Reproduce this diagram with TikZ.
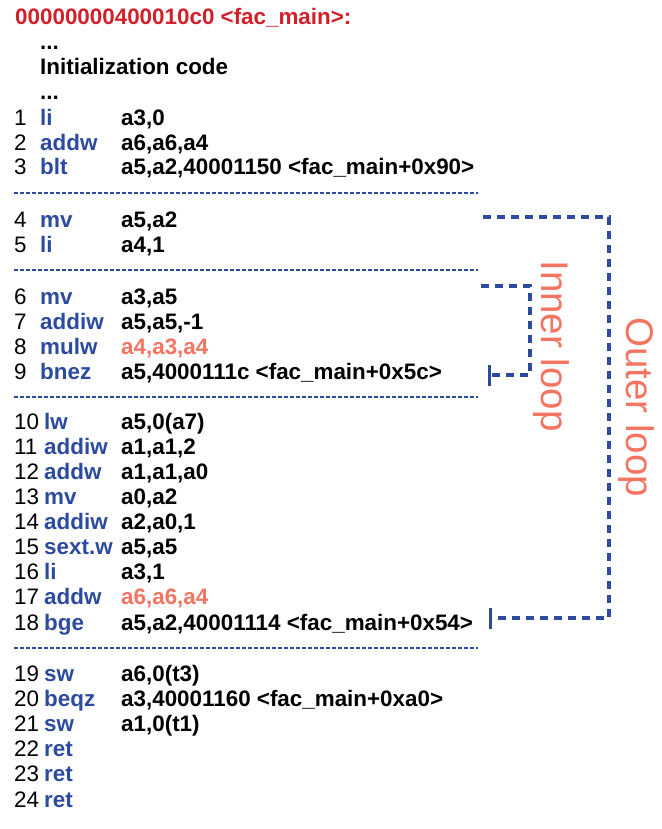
\documentclass[tikz,border=0pt]{standalone}
\usepackage{fontspec}
\setmainfont{Liberation Sans}
\usetikzlibrary{arrows.meta}

\definecolor{mnblue}{HTML}{2C4A9E}
\definecolor{hdred}{HTML}{D2202B}
\definecolor{loopcoral}{HTML}{F47462}

\tikzset{
	codefont/.style={font=\fontsize{22.4}{26}\selectfont},
	num/.style={codefont, anchor=base west, inner sep=0pt},
	mnem/.style={num, font=\fontsize{22.4}{26}\selectfont\bfseries, text=mnblue},
	oper/.style={num, font=\fontsize{22.4}{26}\selectfont\bfseries},
	separator/.style={mnblue, line width=2pt, dash pattern=on 4pt off 2pt},
	loopline/.style={mnblue, line width=3.7pt, dash pattern=on 8pt off 6pt,
		-{Bar[width=21pt, line width=3pt]}},
	looplabel/.style={text=loopcoral, font=\fontsize{38.5}{40}\selectfont,
		rotate=-90, inner sep=0pt}
}

\begin{document}
\begin{tikzpicture}[x=1pt, y=-1pt]

	% ---- canvas

	\useasboundingbox (0,0) rectangle (661,829);

	% ---- header

	\node[oper, text=hdred] (header) at (15,25) {00000000400010c0 <fac\_main>:};
	\node[oper] (dots1) at (40,50) {...};
	\node[oper] (init) at (40,75) {Initialization code};
	\node[oper] (dots2) at (40,100) {...};

	% ---- code lines

	\foreach \n/\y/\m/\o in {
		1/126/li/{a3,0},
		2/150.5/addw/{a6,a6,a4},
		3/175/blt/{a5,a2,40001150 <fac\_main+0x90>},
		4/227/mv/{a5,a2},
		5/252/li/{a4,1},
		6/304/mv/{a3,a5},
		7/329/addiw/{a5,a5,-1},
		8/354/mulw/{\textcolor{loopcoral}{a4,a3,a4}},
		9/379/bnez/{a5,4000111c <fac\_main+0x5c>},
		10/429/lw/{a5,0(a7)},
		11/454/addiw/{a1,a1,2},
		12/479/addw/{a1,a1,a0},
		13/504/mv/{a0,a2},
		14/529/addiw/{a2,a0,1},
		15/554/sext.w/{a5,a5},
		16/579/li/{a3,1},
		17/604.5/addw/{\textcolor{loopcoral}{a6,a6,a4}},
		18/630/bge/{a5,a2,40001114 <fac\_main+0x54>},
		19/681/sw/{a6,0(t3)},
		20/706/beqz/{a3,40001160 <fac\_main+0xa0>},
		21/731/sw/{a1,0(t1)},
		22/756/ret/{},
		23/781.5/ret/{},
		24/807/ret/{}} {
		\pgfmathsetmacro{\mx}{\n<10 ? 40 : 44}
		\node[num] (num\n) at (14,\y) {\n};
		\node[mnem] (mn\n) at (\mx,\y) {\m};
		\node[oper] (op\n) at (121,\y) {\o};
	}

	% ---- separators

	\foreach \y in {193,270,397,648} {
		\draw[separator] (14,\y) -- (478,\y);
	}

	% ---- loop ends

	\coordinate (innerfrom) at (481,286);
	\coordinate (innerto) at (488,375);
	\coordinate (outerfrom) at (483,217);
	\coordinate (outerto) at (489,618);

	% ---- loops

	\draw[loopline] (innerfrom) -- (530,286) -- (530,375) -- (innerto);
	\draw[loopline] (outerfrom) -- (609,217) -- (609,618) -- (outerto);

	% ---- loop labels

	\node[looplabel] (innerlabel) at (551,346) {Inner loop};
	\node[looplabel] (outerlabel) at (636,407) {Outer loop};

\end{tikzpicture}
\end{document}
